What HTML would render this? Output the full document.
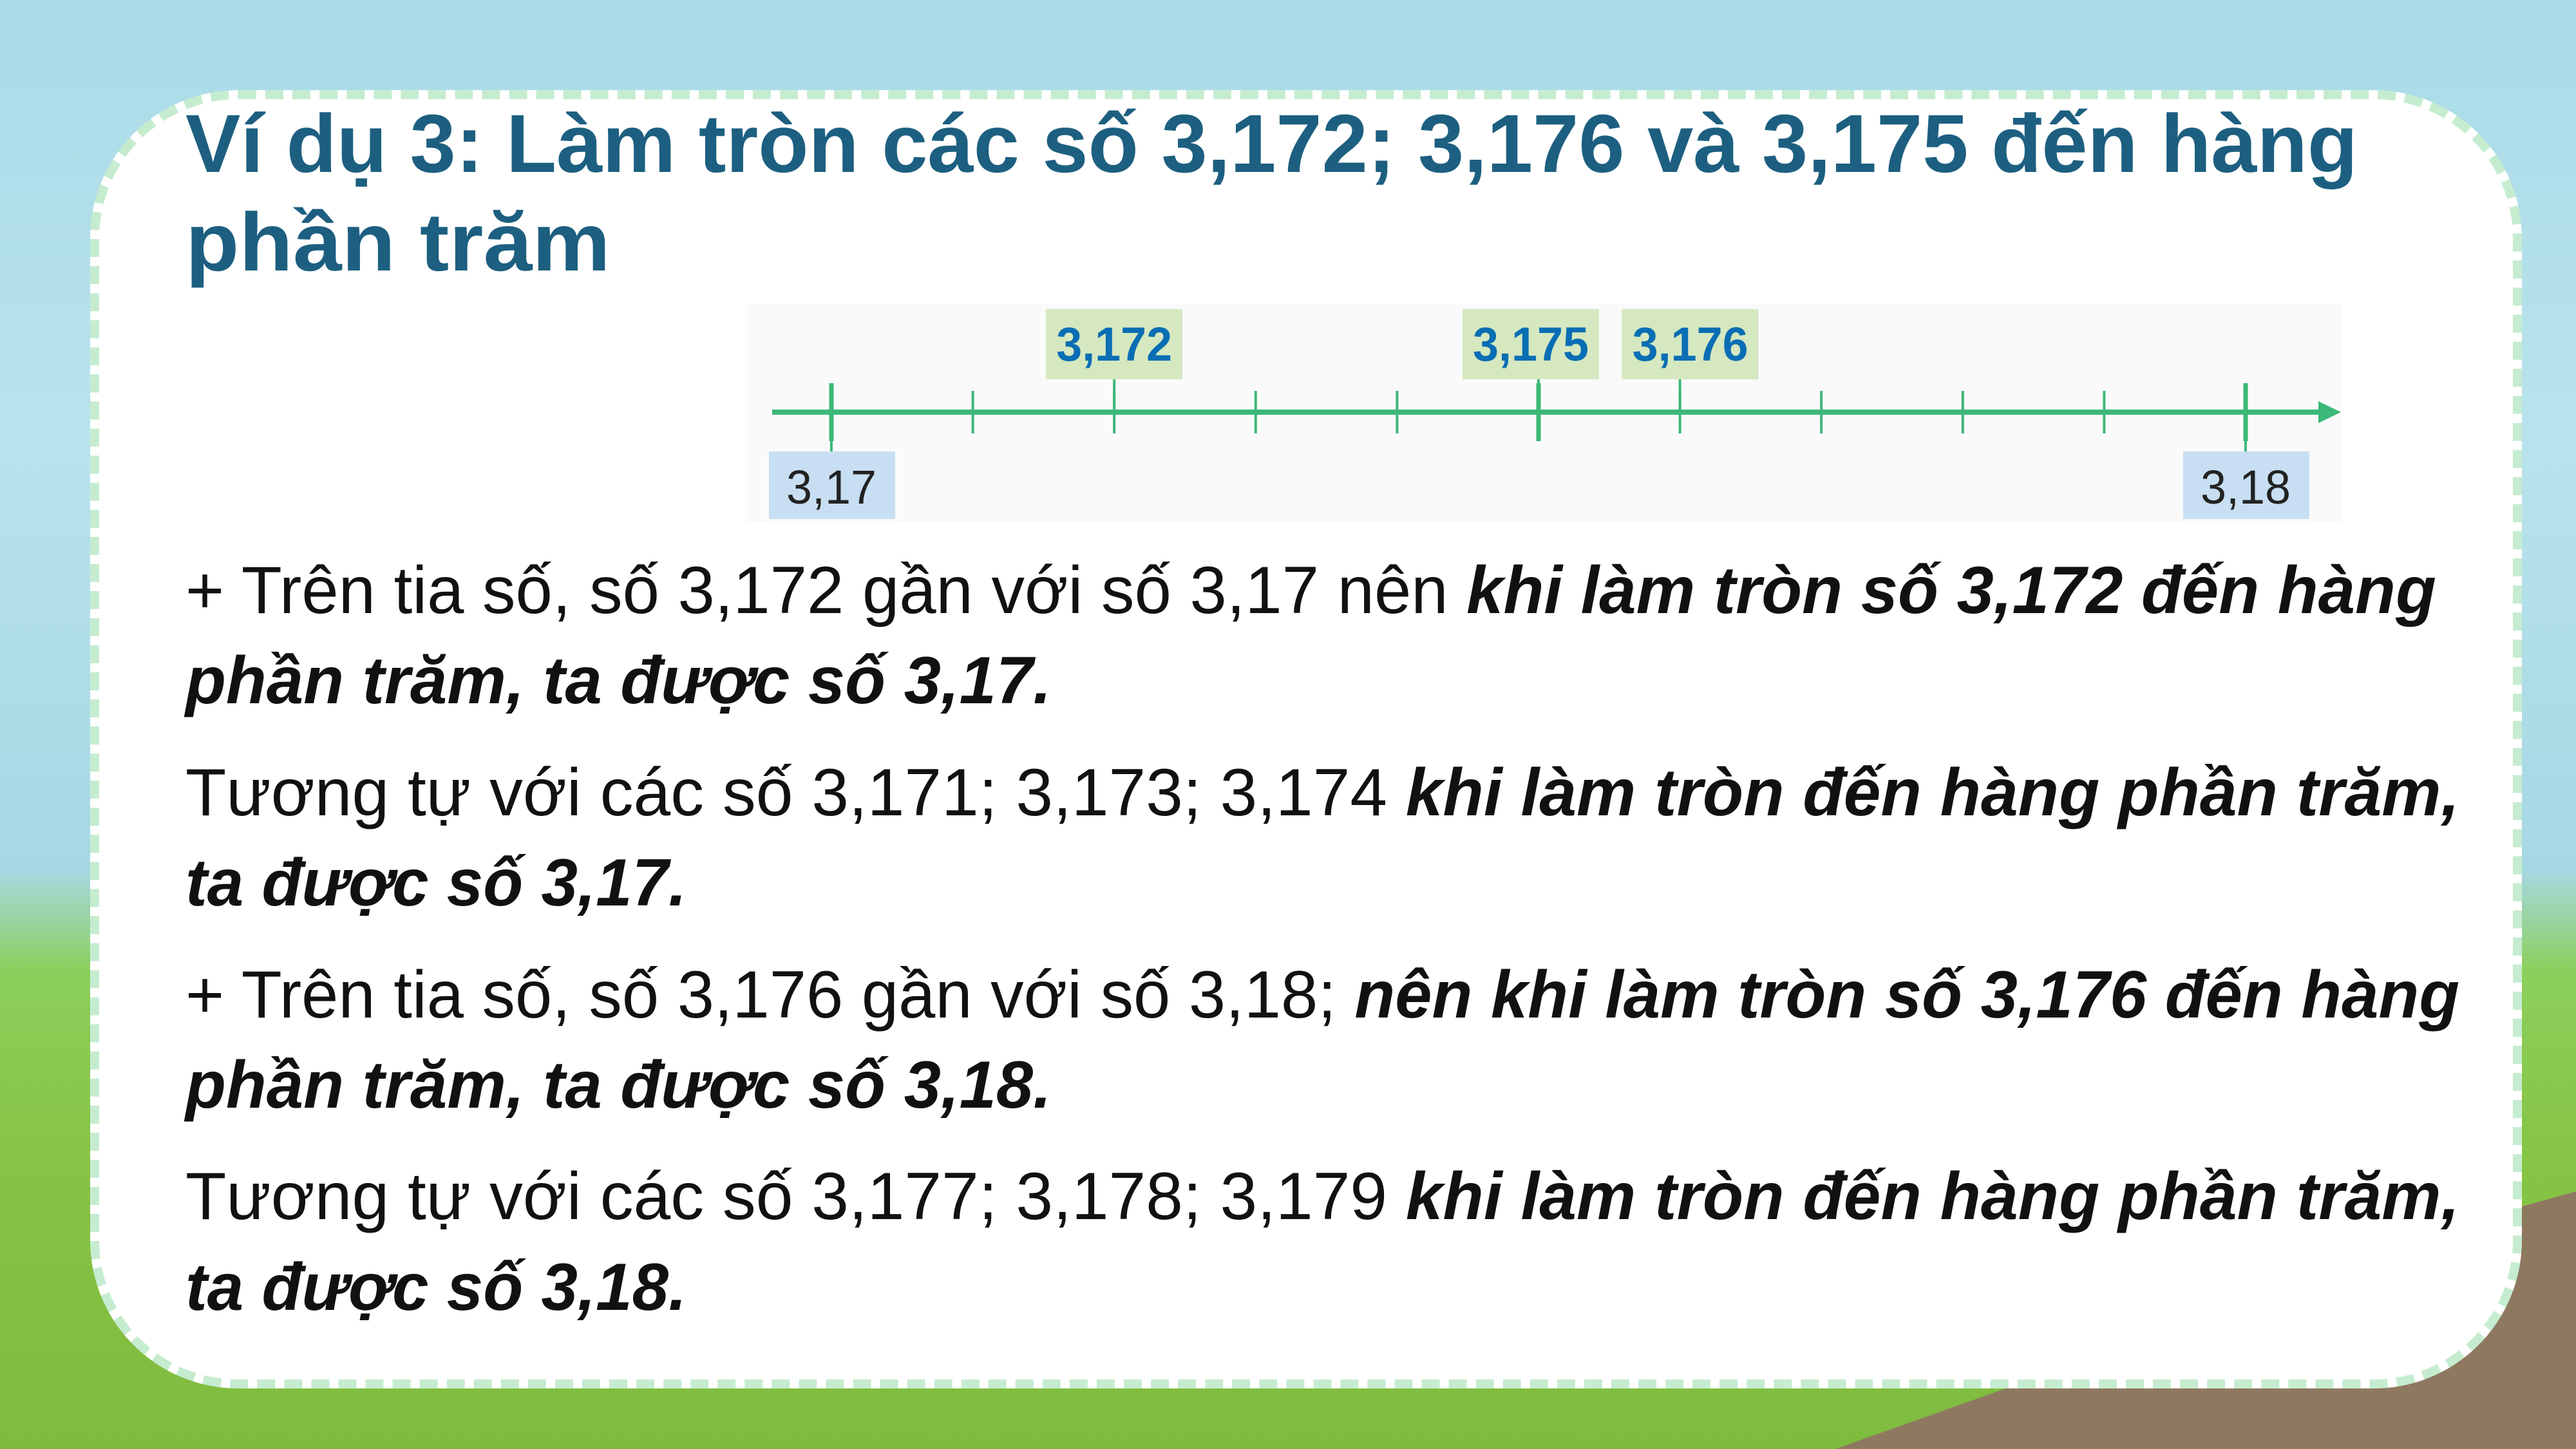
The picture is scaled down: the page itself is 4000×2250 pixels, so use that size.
<!DOCTYPE html>
<html><head><meta charset="utf-8">
<style>
html,body{margin:0;padding:0;width:4000px;height:2250px;overflow:hidden;}
body{position:relative;
background:linear-gradient(180deg,#a9dbe8 0%,#b9e3ec 30%,#a6d8e4 60%,#8ccf5c 67%,#86c445 80%,#7fbb3e 100%);
font-family:"Liberation Sans",sans-serif;}
#tree{position:absolute;left:2850px;top:1850px;width:1150px;height:400px;background:#8f7860;clip-path:polygon(0% 100%,90% 8%,100% 0%,100% 100%);}
#card{position:absolute;left:140px;top:140px;width:3776px;height:2016px;background:#fff;border-radius:230px;border:14px dashed #c6ecd0;box-sizing:border-box;}
.line{position:absolute;left:288px;white-space:nowrap;font-size:104px;color:#111;transform-origin:0 0;line-height:1;}
.title{position:absolute;left:288px;white-space:nowrap;font-size:128px;font-weight:bold;color:#1d5f80;transform-origin:0 0;line-height:1;}
b{font-style:italic;}
</style></head>
<body>
<div id="tree"></div>
<div id="card"></div>
<div class="title" data-w="3373" style="top:160px">Ví dụ 3: Làm tròn các số 3,172; 3,176 và 3,175 đến hàng</div>
<div class="title" data-w="660" style="top:313px">phần trăm</div>

<svg id="nl" style="position:absolute;left:0;top:0" width="4000" height="2250"></svg>

<div class="line" data-w="3495" style="top:865px">+ Trên tia số, số 3,172 gần với số 3,17 nên <b>khi làm tròn số 3,172 đến hàng</b></div>
<div class="line" data-w="1345" style="top:1005px"><b>phần trăm, ta được số 3,17.</b></div>
<div class="line" data-w="3531" style="top:1179px">Tương tự với các số 3,171; 3,173; 3,174 <b>khi làm tròn đến hàng phần trăm,</b></div>
<div class="line" data-w="778" style="top:1319px"><b>ta được số 3,17.</b></div>
<div class="line" data-w="3531" style="top:1493px">+ Trên tia số, số 3,176 gần với số 3,18; <b>nên khi làm tròn số 3,176 đến hàng</b></div>
<div class="line" data-w="1345" style="top:1633px"><b>phần trăm, ta được số 3,18.</b></div>
<div class="line" data-w="3531" style="top:1806px">Tương tự với các số 3,177; 3,178; 3,179 <b>khi làm tròn đến hàng phần trăm,</b></div>
<div class="line" data-w="778" style="top:1947px"><b>ta được số 3,18.</b></div>

<script>
const tickValues=[3.170,3.171,3.172,3.173,3.174,3.175,3.176,3.177,3.178,3.179,3.180];
const majorTicks=[3.170,3.175,3.180];
const topLabels=["3,172","3,175","3,176"];
const topLabelValues=[3.172,3.175,3.176];
const bottomLabels=["3,17","3,18"];
const bottomLabelValues=[3.170,3.180];
const topLabelShift=[0,-12,16];

const NS="http://www.w3.org/2000/svg";
const svg=document.getElementById('nl');
const x=v=>1291+(v-3.170)/0.010*(3487-1291);
const AY=640;
function mk(t,a,p){const e=document.createElementNS(NS,t);for(const k in a)e.setAttribute(k,a[k]);(p||svg).appendChild(e);return e;}
const bg=mk('rect',{x:1161,y:472,width:2474,height:339,fill:'#fafafa'});


const ax=mk('line',{x1:1199,y1:AY,x2:3610,y2:AY,stroke:'#3cb878','stroke-width':8});


const ar=mk('polygon',{points:`3635,${AY} 3600,${AY-17} 3600,${AY+17}`,fill:'#3cb878'});


tickValues.forEach(v=>{
  const maj=majorTicks.some(m=>Math.abs(m-v)<1e-9);
  const h=maj?45:33;
  const t=mk('line',{x1:x(v),y1:AY-h,x2:x(v),y2:AY+h,stroke:'#3cb878','stroke-width':maj?7:4});
  
  
});
topLabels.forEach((s,i)=>{
  const tx=x(topLabelValues[i]);
  const cx=tx+topLabelShift[i];
  const c=mk('line',{x1:tx,y1:589,x2:tx,y2:AY,stroke:'#3cb878','stroke-width':4});
  
  
  const r=mk('rect',{x:cx-106,y:480,width:212,height:109,fill:'#d5e8c0'});
  
  
  const t=mk('text',{x:cx,y:560,'text-anchor':'middle','font-size':74,'font-weight':'bold',fill:'#0a6eb4','font-family':'Liberation Sans Narrow, Liberation Sans, sans-serif',textLength:180,lengthAdjust:'spacingAndGlyphs'});
  t.textContent=s;
  
  
});
bottomLabels.forEach((s,i)=>{
  const cx=x(bottomLabelValues[i]);
  const c=mk('line',{x1:cx,y1:AY,x2:cx,y2:701,stroke:'#3cb878','stroke-width':4});
  
  
  const r=mk('rect',{x:cx-97,y:701,width:196,height:105,fill:'#c8dff3'});
  
  
  const t=mk('text',{x:cx,y:782,'text-anchor':'middle','font-size':74,fill:'#222','font-family':'Liberation Sans, sans-serif',textLength:140,lengthAdjust:'spacingAndGlyphs'});
  t.textContent=s;
  
  
});
document.querySelectorAll('[data-w]').forEach(el=>{
  const w=+el.getAttribute('data-w');
  const sw=el.scrollWidth;
  el.style.transform='scaleX('+(w/sw)+')';
});
</script>
</body></html>
